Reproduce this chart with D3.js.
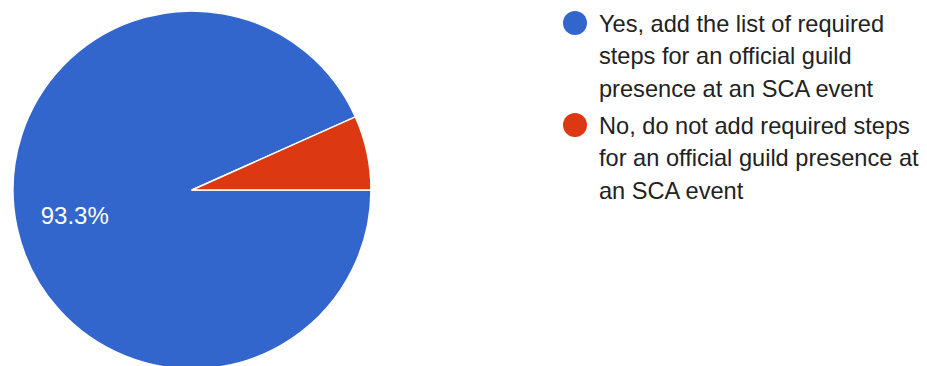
<!DOCTYPE html>
<html>
<head>
<meta charset="utf-8">
<script src="https://cdn.jsdelivr.net/npm/d3@7"></script>
<style>
  html, body { margin: 0; padding: 0; background: #fff; }
  svg { display: block; }
</style>
</head>
<body>
<svg id="chart" width="927" height="366"></svg>
<script>
// Survey answers and their share of responses (percent)
const categories = [
  "Yes, add the list of required steps for an official guild presence at an SCA event",
  "No, do not add required steps for an official guild presence at an SCA event"
];
const legendLines = [
  ["Yes, add the list of required", "steps for an official guild", "presence at an SCA event"],
  ["No, do not add required steps", "for an official guild presence at", "an SCA event"]
];
const values = [93.3, 6.7];
const colors = ["#3366cc", "#dc3912"];

const svg = d3.select("#chart");
const cx = 192, cy = 190, radius = 179;

const pie = d3.pie()
  .sort(null)
  .value(d => d)
  .startAngle(Math.PI / 2)
  .endAngle(Math.PI / 2 + 2 * Math.PI);

const arc = d3.arc().innerRadius(0).outerRadius(radius);
const labelArc = d3.arc().innerRadius(radius * 0.67).outerRadius(radius * 0.67);

const g = svg.append("g").attr("transform", `translate(${cx},${cy})`);
const arcs = pie(values);

g.selectAll("path.slice")
  .data(arcs)
  .join("path")
  .attr("class", "slice")
  .attr("d", arc)
  .attr("fill", (d, i) => colors[i])
  .attr("stroke", "#fff")
  .attr("stroke-width", 1.5)
  .attr("stroke-linejoin", "round");

// Percentage labels on slices large enough to hold them
g.selectAll("text.pct")
  .data(arcs.filter(d => d.value >= 10))
  .join("text")
  .attr("class", "pct")
  .attr("transform", d => `translate(${labelArc.centroid(d)})`)
  .attr("text-anchor", "middle")
  .attr("dy", "0.36em")
  .attr("fill", "#fff")
  .style("font-family", "Arial, 'Liberation Sans', sans-serif")
  .style("font-size", "24px")
  .text(d => d.value.toFixed(1) + "%");

// Legend
const legend = svg.append("g").attr("transform", "translate(575,0)");
const entryTop = [23, 125];
const lineH = 32.5;

categories.forEach((c, i) => {
  const item = legend.append("g").attr("transform", `translate(0,${entryTop[i]})`);
  item.append("title").text(c);
  item.append("circle")
    .attr("r", 12)
    .attr("fill", colors[i]);
  const t = item.append("text")
    .attr("x", 24)
    .attr("y", 8)
    .attr("fill", "#222")
    .style("font-family", "Arial, 'Liberation Sans', sans-serif")
    .style("font-size", "23.6px");
  legendLines[i].forEach((ln, j) => {
    t.append("tspan").attr("x", 24).attr("y", 8.5 + j * lineH).text(ln);
  });
});
</script>
</body>
</html>
